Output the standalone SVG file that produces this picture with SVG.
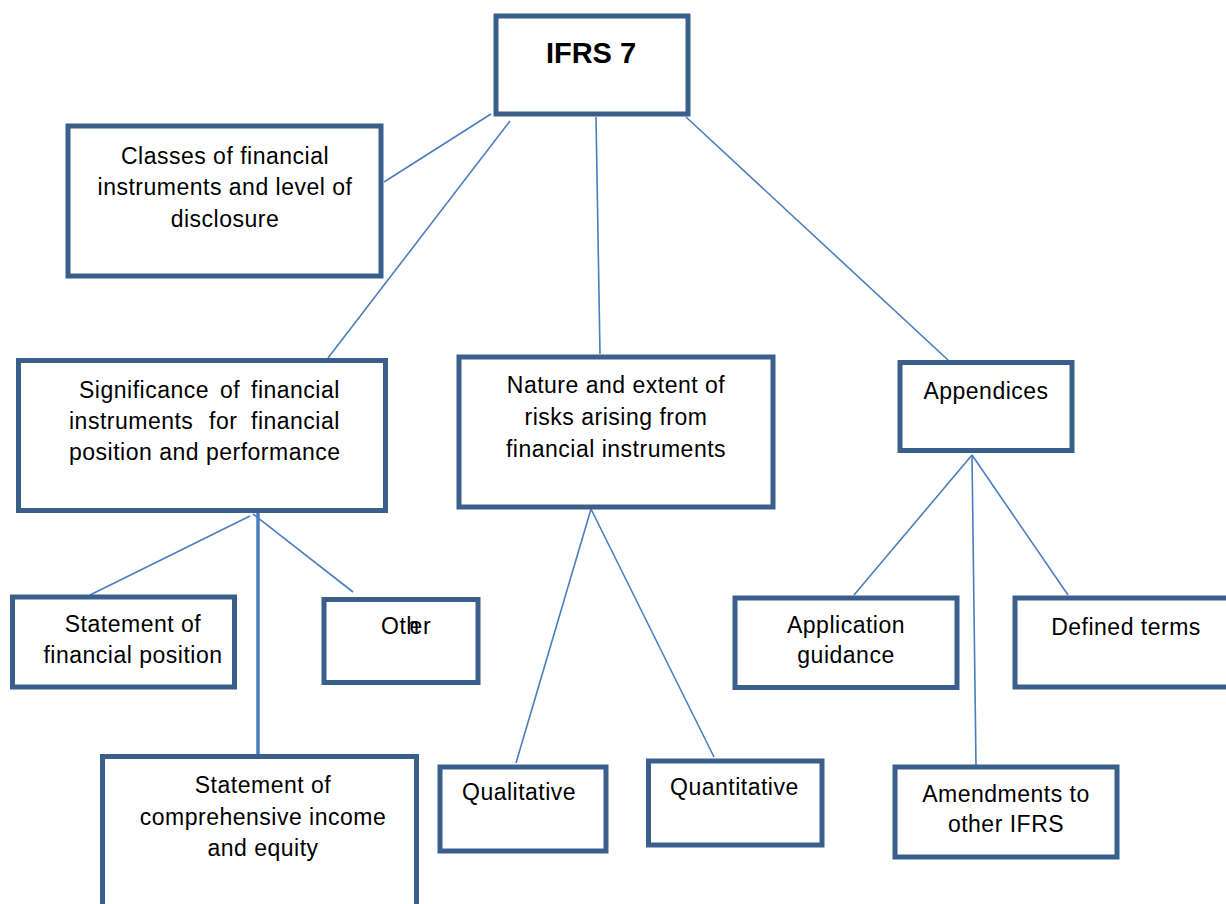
<svg xmlns="http://www.w3.org/2000/svg" width="1226" height="904" viewBox="0 0 1226 904">
<style>
.box{fill:#fff;stroke:#3B5F8D;stroke-width:5}
.t{font-family:"Liberation Sans",Arial,sans-serif;font-size:23px;letter-spacing:0.5px;fill:#000}
.c{text-anchor:middle}
.ln{stroke:#4A7EBD;stroke-width:1.6;fill:none}
.lnb{stroke:#4A7EBD;stroke-width:3.5;fill:none}
</style>
<rect width="1226" height="904" fill="#fff"/>
<g id="connectors">
<line class="ln" x1="491" y1="114" x2="384" y2="182"/>
<line class="ln" x1="510" y1="121" x2="328" y2="358"/>
<line class="ln" x1="596" y1="117" x2="600" y2="354"/>
<line class="ln" x1="686" y1="117" x2="948" y2="360"/>
<line class="ln" x1="250" y1="516" x2="90" y2="595"/>
<line class="ln" x1="253" y1="514" x2="353" y2="592"/>
<line class="lnb" x1="258" y1="513" x2="258" y2="755"/>
<line class="ln" x1="591" y1="509" x2="516" y2="763"/>
<line class="ln" x1="591" y1="509" x2="714" y2="757"/>
<line class="ln" x1="972" y1="455" x2="854" y2="595"/>
<line class="ln" x1="972" y1="455" x2="1068" y2="595"/>
<line class="ln" x1="972" y1="455" x2="976" y2="765"/>
</g>
<g id="ifrs7">
<rect class="box" x="496" y="16" width="192" height="98"/>
<text x="591" y="63" text-anchor="middle" style="font-family:'Liberation Sans',Arial,sans-serif;font-size:29px;font-weight:bold">IFRS 7</text>
</g>
<g id="classes">
<rect class="box" x="68" y="126" width="313" height="150"/>
<text class="t c" x="225" y="164">Classes of financial</text>
<text class="t c" x="225" y="195">instruments and level of</text>
<text class="t c" x="225" y="227">disclosure</text>
</g>
<g id="significance">
<rect class="box" x="18.5" y="360.5" width="367" height="150"/>
<text class="t" y="398"><tspan x="79">Significance</tspan><tspan x="220">of</tspan><tspan x="251">financial</tspan></text>
<text class="t" y="429"><tspan x="69">instruments</tspan><tspan x="209">for</tspan><tspan x="251">financial</tspan></text>
<text class="t" x="69" y="460">position and performance</text>
</g>
<g id="nature">
<rect class="box" x="459" y="357" width="314" height="150"/>
<text class="t c" x="616" y="393">Nature and extent of</text>
<text class="t c" x="616" y="425">risks arising from</text>
<text class="t c" x="616" y="457">financial instruments</text>
</g>
<g id="appendices">
<rect class="box" x="900" y="362.5" width="172" height="88"/>
<text class="t c" x="986" y="399">Appendices</text>
</g>
<g id="stmt-position">
<rect class="box" x="12.5" y="597" width="222" height="90"/>
<text class="t c" x="133" y="632">Statement of</text>
<text class="t c" x="133" y="663">financial position</text>
</g>
<g id="other">
<rect class="box" x="324" y="599.5" width="154" height="83"/>
<text class="t" x="381" y="634" dx="0 0 0 -10 0">Other</text>
</g>
<g id="stmt-income">
<rect class="box" x="102.5" y="756.5" width="314" height="200"/>
<text class="t c" x="263" y="793">Statement of</text>
<text class="t c" x="263" y="825">comprehensive income</text>
<text class="t c" x="263" y="856">and equity</text>
</g>
<g id="qualitative">
<rect class="box" x="440" y="767" width="166" height="84"/>
<text class="t" x="462" y="800">Qualitative</text>
</g>
<g id="quantitative">
<rect class="box" x="648.5" y="761" width="173.5" height="84"/>
<text class="t" x="670" y="795">Quantitative</text>
</g>
<g id="application">
<rect class="box" x="735" y="598" width="222" height="89.5"/>
<text class="t c" x="846" y="633">Application</text>
<text class="t c" x="846" y="663">guidance</text>
</g>
<g id="defined">
<rect class="box" x="1015" y="598" width="220" height="89"/>
<text class="t c" x="1126" y="635">Defined terms</text>
</g>
<g id="amendments">
<rect class="box" x="895" y="767" width="222" height="90"/>
<text class="t c" x="1006" y="802">Amendments to</text>
<text class="t c" x="1006" y="832">other IFRS</text>
</g>
</svg>
